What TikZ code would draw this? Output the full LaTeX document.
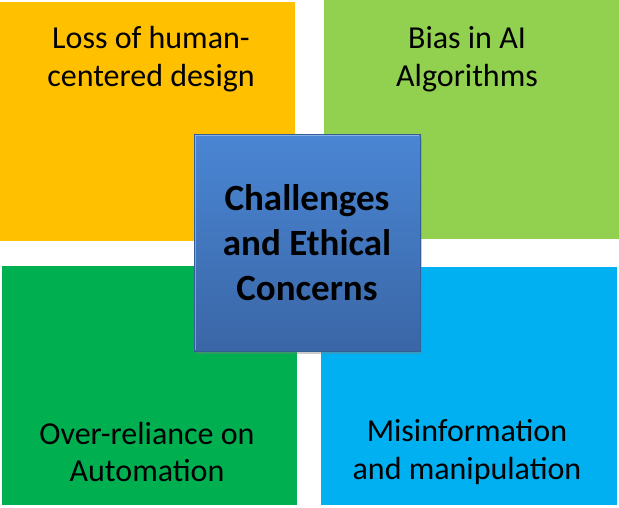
\documentclass[tikz,border=0pt]{standalone}
\usepackage{fontspec}
\setmainfont{Carlito}
\usetikzlibrary{shadows,calc}

\definecolor{qorange}{HTML}{FFC000}
\definecolor{qlime}{HTML}{92D050}
\definecolor{qgreen}{HTML}{00B050}
\definecolor{qblue}{HTML}{00B0F0}
\definecolor{coretop}{HTML}{4A86D4}
\definecolor{corebot}{HTML}{3A66A6}
\definecolor{coreline}{HTML}{345E98}

\tikzset{
  quadtext/.style={align=center, inner sep=0pt, font=\fontsize{32}{37.5}\selectfont},
  corebox/.style={draw=coreline, line width=1pt, top color=coretop, bottom color=corebot,
    minimum width=226pt, minimum height=216pt, align=center,
    font=\fontsize{37}{45}\selectfont\bfseries,
    drop shadow={shadow xshift=2pt, shadow yshift=-3pt, opacity=0.4}}
}

\begin{document}
\begin{tikzpicture}[x=1pt,y=-1pt]
\useasboundingbox (0,0) rectangle (619,508);

\fill [qorange] (0,2)     rectangle (295,241);
\fill [qlime]   (324,0)   rectangle (619,239);
\fill [qgreen]  (2,266)   rectangle (297,505);
\fill [qblue]   (321,267) rectangle (617,505);

\node [quadtext] (loss) at (151,59)  {Loss of human-\\centered design};
\node [quadtext] (bias) at (467,59)  {Bias in AI\\Algorithms};
\node [quadtext] (auto) at (147,452) {Over-reliance on\\Automation};
\node [quadtext] (misinfo) at (467,452) {Misinformation\\and manipulation};

\node [corebox] (core) at (307,243) {Challenges\\and Ethical\\Concerns};
\draw [white, opacity=0.35, line width=1pt] (core.south west) ++(1.5,-1.5) |- ($(core.north east)+(-1.5,1.5)$);

\end{tikzpicture}
\end{document}
